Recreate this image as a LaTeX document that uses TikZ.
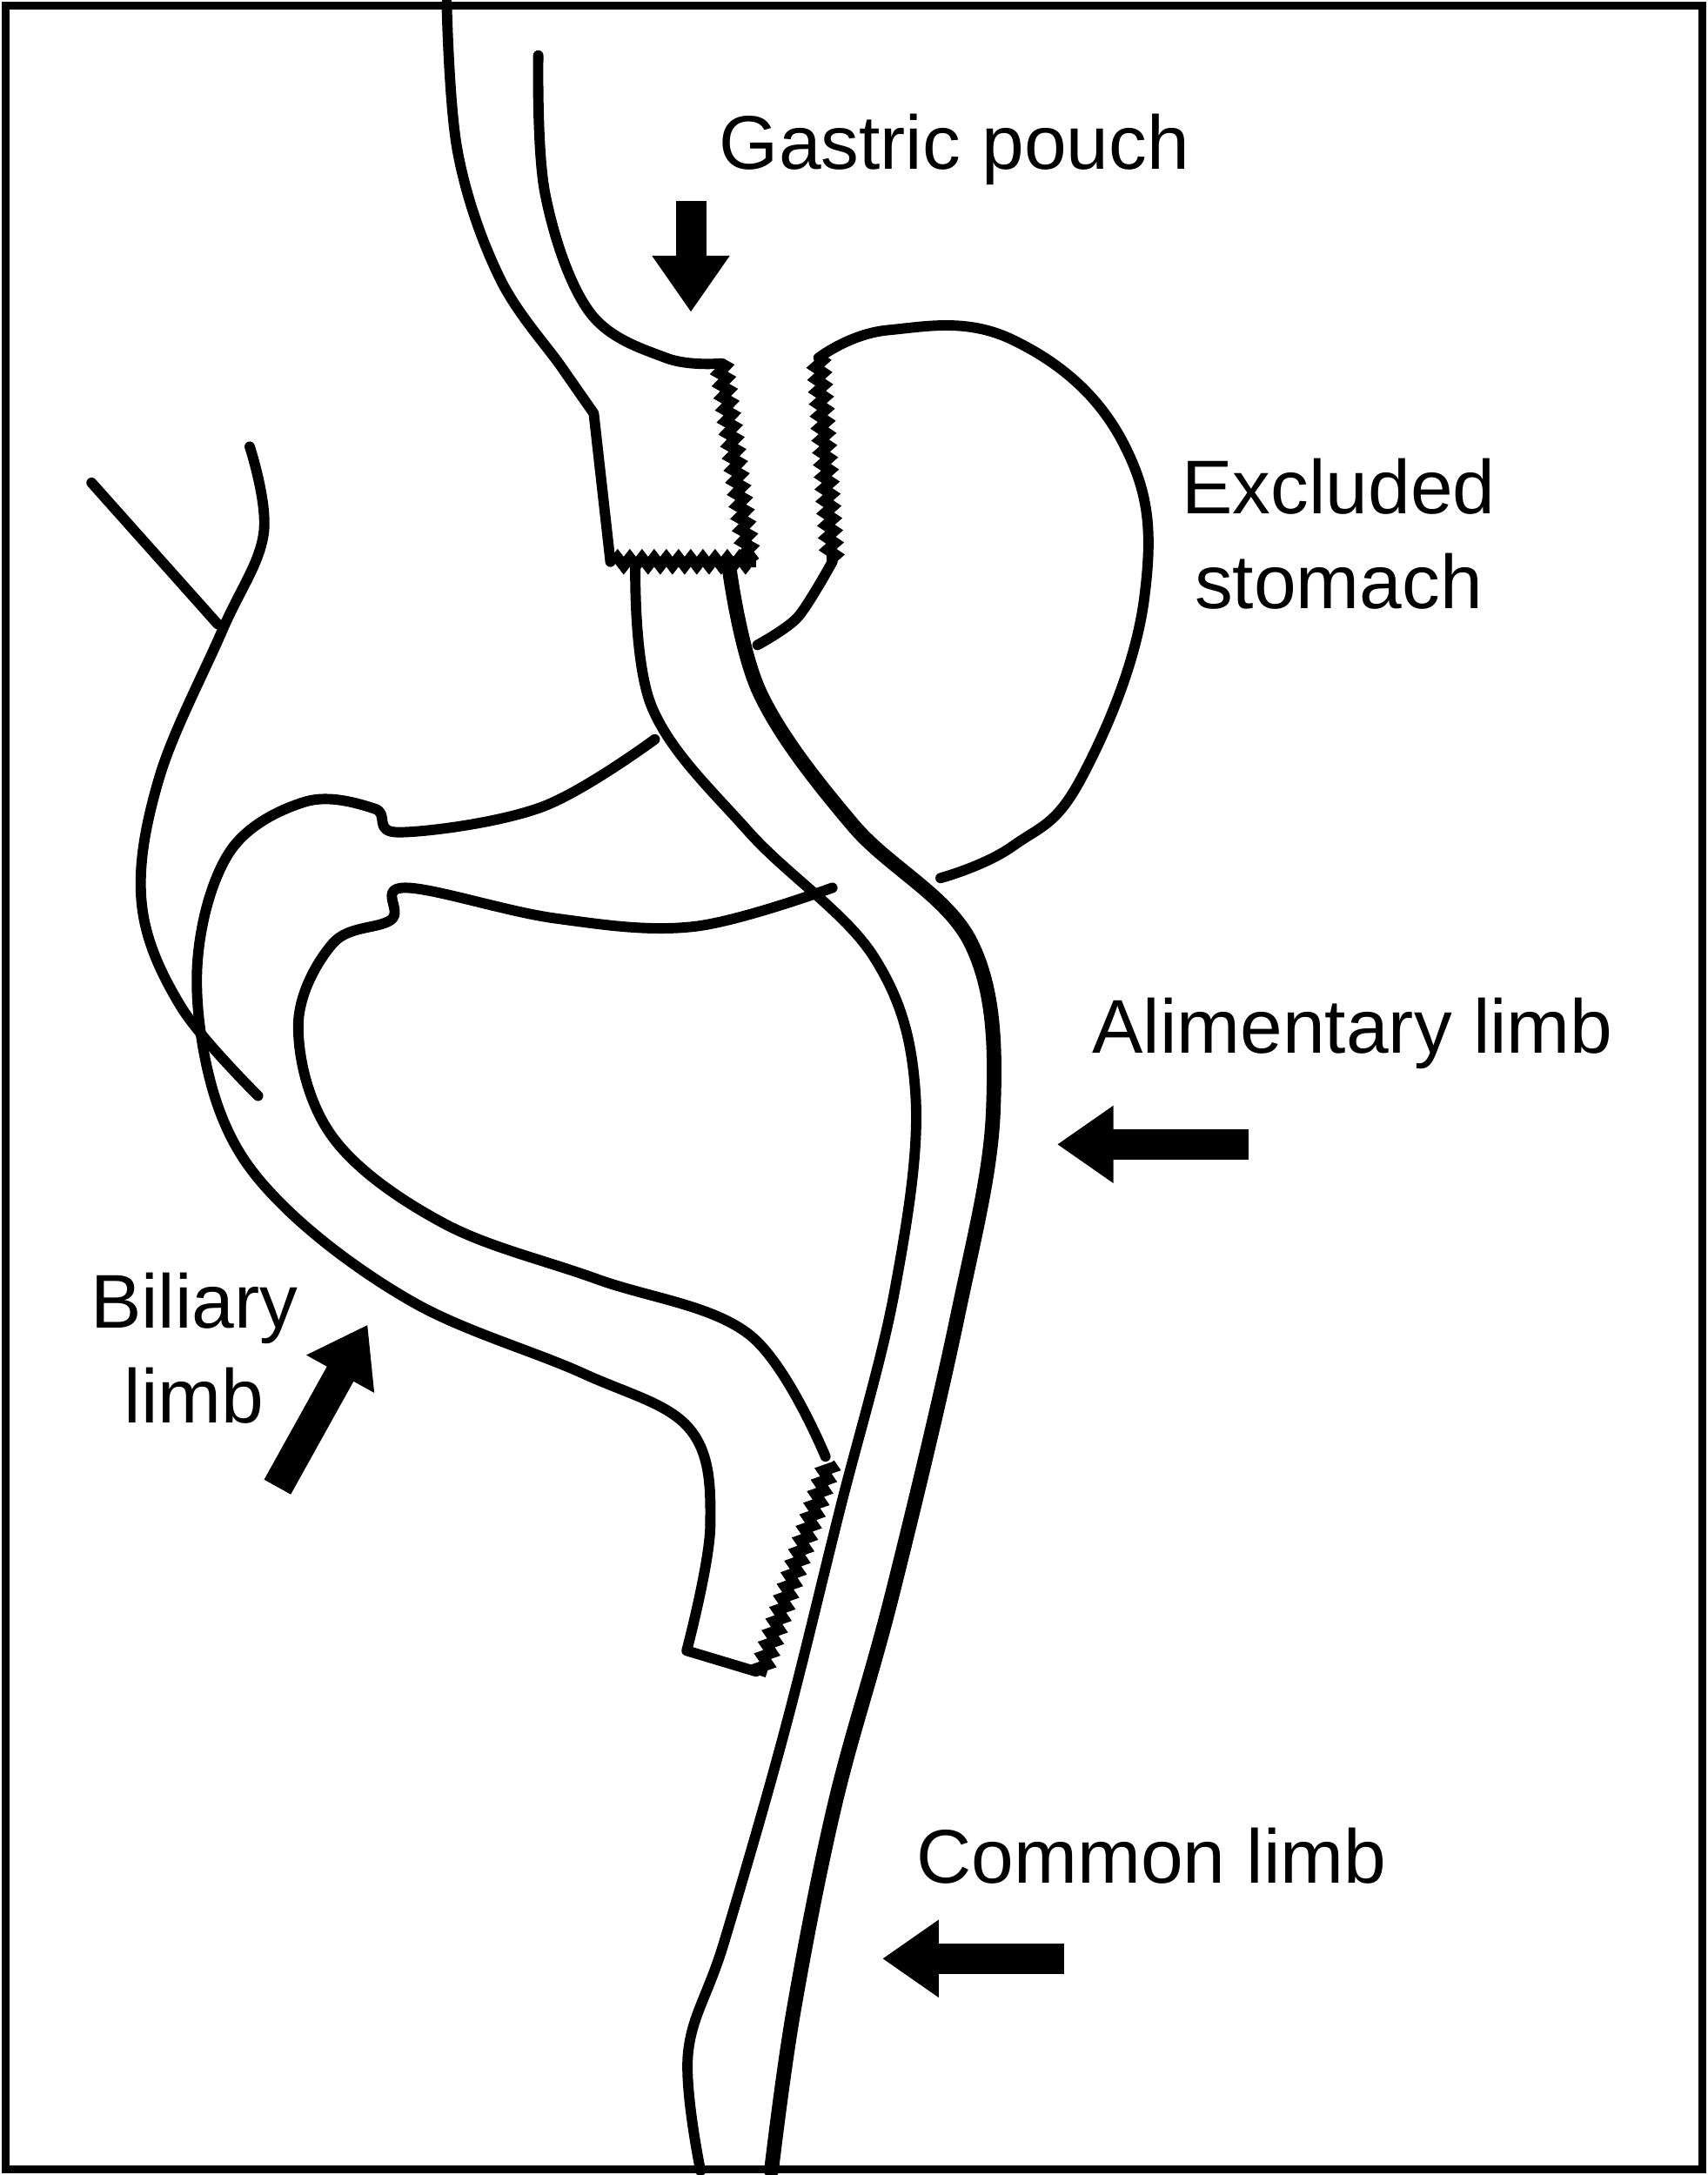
\documentclass[tikz,border=0pt]{standalone}
\usepackage{fontspec}
\setmainfont{Liberation Sans}
\usetikzlibrary{arrows.meta,decorations.pathmorphing}
\begin{document}
\begin{tikzpicture}[x=0.016cm,y=-0.016cm,
  ln/.style={line width=3.4pt,line cap=round,line join=round},
  thk/.style={line width=4.8pt,line cap=round,line join=round},
  stp/.style={line width=3.6pt,decorate,decoration={zigzag,segment length=4pt,amplitude=1.3pt}},
  blk/.style={line width=10pt,-{Triangle[length=0.65cm,width=0.85cm]}},
  lab/.style={font=\fontsize{25}{31}\selectfont,align=center}]
\useasboundingbox (0,0) rectangle (1231,1568);
\draw[line width=2.5pt] (4,4) rectangle (1227,1564);
% esophagus and pouch
\draw[ln] plot[smooth,tension=0.6] coordinates{(322,2) (330,110) (360,200) (405,265) (428,298)} -- (440,405);
\draw[ln] plot[smooth,tension=0.6] coordinates{(388,40) (393,140) (425,225) (480,258) (520,262)};
\draw[stp] (520,262) -- (540,405);
\draw[stp] (443,405) -- (545,405);
% excluded stomach
\draw[stp] (590,258) -- (600,405);
\draw[ln] plot[smooth,tension=0.7] coordinates{(590,258) (640,238) (730,245) (810,320) (825,430) (780,560) (730,610) (678,633)};
\draw[ln] plot[smooth] coordinates{(600,405) (575,445) (546,465)};
% alimentary/common limb
\draw[ln] plot[smooth,tension=0.6] coordinates{(458,405) (470,510) (540,600) (630,690) (660,790) (645,930) (605,1090) (565,1250) (522,1400) (496,1480) (505,1565)};
\draw[thk] plot[smooth,tension=0.6] coordinates{(525,405) (548,500) (615,595) (700,680) (716,800) (690,950) (643,1150) (602,1300) (572,1450) (556,1565)};
% biliary limb
\draw[ln] plot[smooth,tension=0.6] coordinates{(472,533) (390,582) (288,600) (270,583) (220,578) (165,615) (142,700) (158,800) (205,870) (300,940) (420,990) (497,1030) (512,1100) (495,1190)} -- (545,1205);
\draw[ln] plot[smooth,tension=0.6] coordinates{(600,640) (500,668) (400,662) (292,640) (282,663) (240,680) (215,740) (240,820) (320,882) (430,922) (540,962) (595,1050)};
\draw[stp] (598,1055) -- (548,1208);
% vessel
\draw[ln] (66,348) -- (157,450);
\draw[ln] plot[smooth,tension=0.6] coordinates{(180,322) (190,385) (160,455) (115,560) (102,650) (130,725) (186,790)};
% arrows and labels
\node[lab] (gp) at (688,108) {Gastric pouch};
\draw[blk] (498,145) -- (498,225);
\node[lab] (es) at (965,385) {Excluded\\stomach};
\node[lab] (al) at (975,745) {Alimentary limb};
\draw[blk] (900,825) -- (762,825);
\node[lab] (bl) at (140,972) {Biliary\\limb};
\draw[blk] (200,1072) -- (265,955);
\node[lab] (cl) at (830,1338) {Common limb};
\draw[blk] (767,1412) -- (636,1412);
\end{tikzpicture}
\end{document}
